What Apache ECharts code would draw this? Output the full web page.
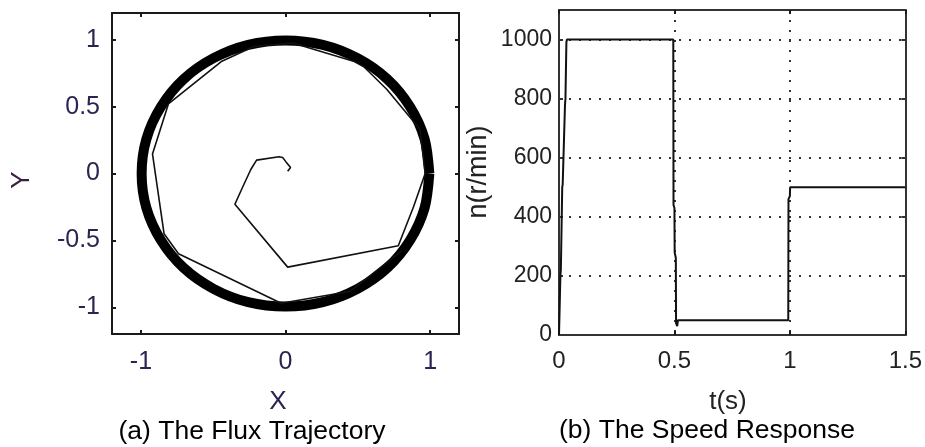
<!DOCTYPE html>
<html>
<head>
<meta charset="utf-8">
<script src="https://cdn.jsdelivr.net/npm/echarts@6/dist/echarts.min.js"></script>
<style>
html,body{margin:0;padding:0;background:#fff;}
#chart{width:925px;height:447px;}
</style>
</head>
<body>
<div id="chart"></div>
<script>
// ---- (a) Flux trajectory data ----
var circleX = [0.995, 0.962, 0.862, 0.705, 0.498, 0.258, 0.000, -0.258, -0.498, -0.705, -0.862, -0.962, -0.995, -0.962, -0.862, -0.705, -0.498, -0.258, 0.000, 0.258, 0.498, 0.705, 0.862, 0.962, 0.995];
var circleY = [0.000, 0.258, 0.498, 0.705, 0.862, 0.962, 0.995, 0.962, 0.862, 0.705, 0.498, 0.258, 0.000, -0.258, -0.498, -0.705, -0.862, -0.962, -0.995, -0.962, -0.862, -0.705, -0.498, -0.258, 0.000];
var pathX = [0.015, 0.035, 0.005, -0.02, -0.045, -0.20, -0.24, -0.30, -0.35, 0.015, 0.78, 0.885, 0.966, 0.93, 0.70, 0.54, 0.47, 0.05, -0.22, -0.44, -0.81, -0.92, -0.84, -0.74, -0.03, 0.45, 0.80];
var pathY = [0.017, 0.045, 0.085, 0.12, 0.125, 0.10, 0.03, -0.11, -0.23, -0.70, -0.54, -0.25, 0.0, 0.33, 0.63, 0.80, 0.84, 0.976, 0.95, 0.84, 0.52, 0.146, -0.45, -0.60, -0.97, -0.88, -0.58];
var fluxXTicks = [-1, 0, 1];
var fluxYTicks = [-1, -0.5, 0, 0.5, 1];

// ---- (b) Speed response data ----
var speedT = [0, 0.003, 0.006, 0.008, 0.014, 0.016, 0.026, 0.028, 0.032, 0.034, 0.495, 0.496, 0.500, 0.501, 0.506, 0.507, 0.512, 0.515, 0.993, 0.994, 1.000, 1.001, 1.5];
var speedV = [0, 0, 200, 220, 500, 510, 780, 800, 990, 1000, 1000, 440, 430, 280, 260, 40, 30, 50, 50, 460, 470, 500, 500];
var speedXTicks = [0, 0.5, 1, 1.5];
var speedYTicks = [0, 200, 400, 600, 800, 1000];

function zip(a, b) { return a.map(function (v, i) { return [v, b[i]]; }); }

var leftFont = '"Liberation Sans", Arial, sans-serif';
var labCol = '#2a2550';

function boxAxis(extra) {
  var base = {
    axisLine: { show: true, onZero: false, lineStyle: { color: '#1a1a1a', width: 2 } },
    axisTick: { show: true, inside: true, length: 4, lineStyle: { color: '#1a1a1a', width: 2 } },
    axisLabel: { show: false },
    splitLine: { show: false }
  };
  return Object.assign(base, extra);
}
function plain(v) { return String(v); }

var chart = echarts.init(document.getElementById('chart'), null, { renderer: 'canvas' });
var option = {
  animation: false,
  backgroundColor: '#fff',
  grid: [
    { left: 112, top: 13, width: 347, height: 321 },
    { left: 559, top: 10, width: 348, height: 325 }
  ],
  xAxis: [
    boxAxis({ type: 'value', gridIndex: 0, position: 'bottom', min: -1.2, max: 1.2,
      axisTick: { show: true, inside: true, length: 4, customValues: fluxXTicks, lineStyle: { color: '#1a1a1a', width: 2 } },
      axisLabel: { show: true, customValues: fluxXTicks, margin: 16, fontSize: 25, fontFamily: leftFont, color: labCol, formatter: plain } }),
    boxAxis({ type: 'value', gridIndex: 0, position: 'top', min: -1.2, max: 1.2,
      axisTick: { show: true, inside: true, length: 4, customValues: fluxXTicks, lineStyle: { color: '#1a1a1a', width: 2 } } }),
    boxAxis({ type: 'value', gridIndex: 1, position: 'bottom', min: 0, max: 1.5, interval: 0.5,
      axisLine: { show: true, onZero: false, lineStyle: { color: '#333', width: 2 } },
      axisLabel: { show: true, customValues: speedXTicks, margin: 14, fontSize: 24, fontFamily: leftFont, color: '#222', formatter: plain } ,
      splitLine: { show: true, lineStyle: { color: '#333', width: 2, type: [2, 8] } } }),
    boxAxis({ type: 'value', gridIndex: 1, position: 'top', min: 0, max: 1.5, interval: 0.5,
      axisLine: { show: true, onZero: false, lineStyle: { color: '#333', width: 2 } } })
  ],
  yAxis: [
    boxAxis({ type: 'value', gridIndex: 0, position: 'left', min: -1.2, max: 1.2,
      axisTick: { show: true, inside: true, length: 4, customValues: fluxYTicks, lineStyle: { color: '#1a1a1a', width: 2 } },
      axisLabel: { show: true, customValues: fluxYTicks, margin: 12, fontSize: 25, fontFamily: leftFont, color: labCol, formatter: plain } }),
    boxAxis({ type: 'value', gridIndex: 0, position: 'right', min: -1.2, max: 1.2,
      axisTick: { show: true, inside: true, length: 4, customValues: fluxYTicks, lineStyle: { color: '#1a1a1a', width: 2 } } }),
    boxAxis({ type: 'value', gridIndex: 1, position: 'left', min: 0, max: 1100, interval: 200,
      axisLine: { show: true, onZero: false, lineStyle: { color: '#333', width: 2 } },
      axisTick: { show: true, inside: true, length: 4, customValues: speedYTicks, lineStyle: { color: '#333', width: 2 } },
      axisLabel: { show: true, customValues: speedYTicks, margin: 7, fontSize: 23, fontFamily: leftFont, color: '#222', formatter: plain },
      splitLine: { show: true, lineStyle: { color: '#333', width: 2, type: [2, 8] } } }),
    boxAxis({ type: 'value', gridIndex: 1, position: 'right', min: 0, max: 1100, interval: 200,
      axisLine: { show: true, onZero: false, lineStyle: { color: '#333', width: 2 } },
      axisTick: { show: true, inside: true, length: 4, customValues: speedYTicks, lineStyle: { color: '#333', width: 2 } } })
  ],
  series: [
    { type: 'line', xAxisIndex: 0, yAxisIndex: 0, data: zip(pathX, pathY), showSymbol: false, symbol: 'none',
      lineStyle: { color: '#111', width: 1.6 }, z: 3 },
    { type: 'line', xAxisIndex: 0, yAxisIndex: 0, data: zip(circleX, circleY), showSymbol: false, symbol: 'none',
      smooth: 0.3, lineStyle: { color: '#000', width: 10, join: 'round' }, z: 2 },
    { type: 'line', xAxisIndex: 2, yAxisIndex: 2, data: zip(speedT, speedV), showSymbol: false, symbol: 'none',
      lineStyle: { color: '#111', width: 2 }, z: 3 }
  ],
  graphic: [
    { type: 'text', x: 278, y: 402, style: { text: 'X', font: '26px ' + leftFont, fill: labCol, align: 'center', verticalAlign: 'middle' } },
    { type: 'text', x: 22, y: 180, rotation: Math.PI / 2, style: { text: 'Y', font: '26px ' + leftFont, fill: '#3a2040', align: 'center', verticalAlign: 'middle' } },
    { type: 'text', x: 728, y: 402, style: { text: 't(s)', font: '26px ' + leftFont, fill: '#222', align: 'center', verticalAlign: 'middle' } },
    { type: 'text', x: 479, y: 172, rotation: Math.PI / 2, style: { text: 'n(r/min)', font: '27px ' + leftFont, fill: '#222', align: 'center', verticalAlign: 'middle' } },
    { type: 'text', x: 252, y: 432, style: { text: '(a) The Flux Trajectory', font: '26.5px ' + leftFont, fill: '#000', align: 'center', verticalAlign: 'middle' } },
    { type: 'text', x: 707, y: 431, style: { text: '(b) The Speed Response', font: '26.5px ' + leftFont, fill: '#000', align: 'center', verticalAlign: 'middle' } }
  ]
};
chart.setOption(option);
</script>
</body>
</html>
